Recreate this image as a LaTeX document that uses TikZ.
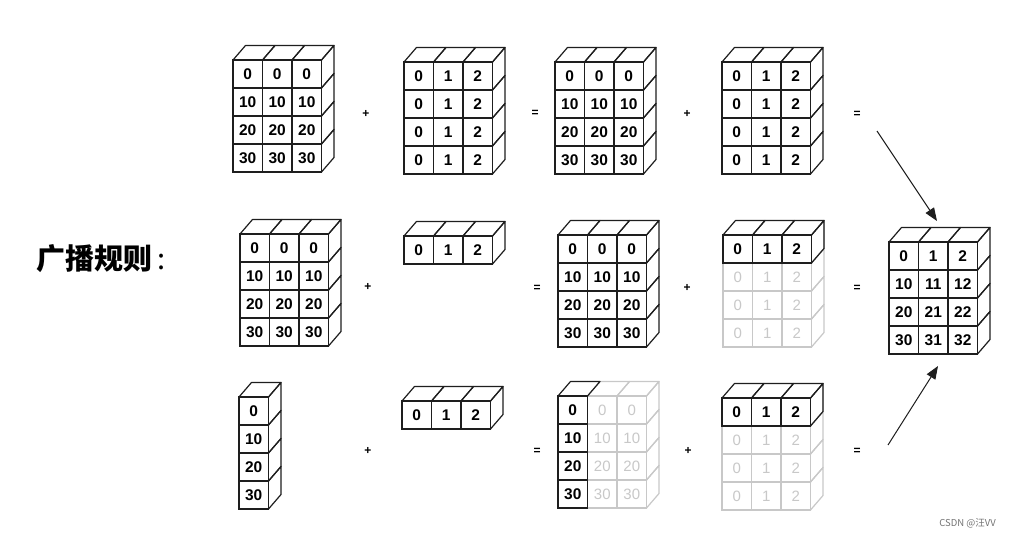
\documentclass[tikz,border=0pt]{standalone}
\usepackage{fontspec}
\setmainfont{Liberation Sans}
\newfontfamily\cjk{Noto Sans CJK SC}
\usetikzlibrary{arrows.meta}
\def\cw{29.5}
\def\ch{28}
\def\cbdx{12.5}
\def\cbdy{14.5}
\definecolor{fade}{HTML}{C8C8C8}
\definecolor{ink}{HTML}{1E1E1E}
\tikzset{
  cell/.style={draw, line width=1.2pt, minimum width=\cw pt, minimum height=\ch pt,
    inner sep=0pt, outer sep=0pt, font=\bfseries\fontsize{15.5}{15.5}\selectfont, text=black, color=ink},
  dark/.style={draw=ink, text=black},
  faded/.style={draw=fade, text=fade, font=\fontsize{15}{15}\selectfont},
  edge/.style={draw=ink, line width=1.2pt, line join=round},
  fedge/.style={draw=fade, line width=1.2pt, line join=round},
  op/.style={font=\bfseries\fontsize{12}{12}\selectfont, inner sep=0pt},
  conn/.style={draw=ink, line width=1pt, -{Triangle[length=13pt,width=10pt]}}
}
% top faces: x, y, ncols, style
\newcommand\topfaces[4]{%
  \foreach \i in {1,...,#3}{%
    \draw[#4] ({#1+(\i-1)*\cw},#2) -- ++(\cbdx,-\cbdy) -- ++(\cw,0) -- ({#1+\i*\cw},#2);
  }}
% side faces: x, y, ncols (right edge offset), nrows, style
\newcommand\sidefaces[5]{%
  \foreach \j in {1,...,#4}{%
    \draw[#5] ({#1+#3*\cw},{#2+(\j-1)*\ch}) -- ++(\cbdx,-\cbdy) -- ++(0,\ch) -- ({#1+#3*\cw},{#2+\j*\ch});
  }}
% cells: name, x, y, ncols, labels, style
\newcommand\cells[6]{%
  \foreach \lab [count=\k from 0] in {#5}{%
    \pgfmathtruncatemacro\cc{mod(\k,#4)}%
    \pgfmathtruncatemacro\rr{div(\k,#4)}%
    \node[cell,#6,anchor=north west] (#1-\k) at ({#2+\cc*\cw},{#3+\rr*\ch}) {\lab};
  }}
\newcommand\fullbox[6]{% name,x,y,ncols,nrows,labels
  \topfaces{#2}{#3}{#4}{edge}
  \sidefaces{#2}{#3}{#4}{#5}{edge}
  \cells{#1}{#2}{#3}{#4}{#6}{dark}
}
\begin{document}
\begin{tikzpicture}[x=1pt,y=-1pt]
\useasboundingbox[fill=white] (0,0) rectangle (1010,538);

% ---------- row 1 ----------
\fullbox{ra}{233}{60}{3}{4}{0,0,0,10,10,10,20,20,20,30,30,30}
\fullbox{rb}{404}{62}{3}{4}{0,1,2,0,1,2,0,1,2,0,1,2}
\fullbox{rc}{555}{62}{3}{4}{0,0,0,10,10,10,20,20,20,30,30,30}
\fullbox{rd}{722}{62}{3}{4}{0,1,2,0,1,2,0,1,2,0,1,2}

% ---------- row 2 ----------
\fullbox{sa}{240}{234}{3}{4}{0,0,0,10,10,10,20,20,20,30,30,30}
\fullbox{sb}{404}{236}{3}{1}{0,1,2}
\fullbox{sc}{558}{235}{3}{4}{0,0,0,10,10,10,20,20,20,30,30,30}
% faded box with dark top row
\sidefaces{723}{235}{3}{4}{fedge}
\cells{sdf}{723}{263}{3}{0,1,2,0,1,2,0,1,2}{faded}
\topfaces{723}{235}{3}{edge}
\sidefaces{723}{235}{3}{1}{edge}
\cells{sd}{723}{235}{3}{0,1,2}{dark}

% ---------- row 3 ----------
\fullbox{ta}{239}{397}{1}{4}{0,10,20,30}
\fullbox{tb}{402}{401}{3}{1}{0,1,2}
% faded box with dark left column
\topfaces{587.5}{396}{2}{fedge}
\sidefaces{558}{396}{3}{4}{fedge}
\cells{tcf}{587.5}{396}{2}{0,0,10,10,20,20,30,30}{faded}
\topfaces{558}{396}{1}{edge}
\cells{tc}{558}{396}{1}{0,10,20,30}{dark}
% faded box with dark top row
\sidefaces{722}{398}{3}{4}{fedge}
\cells{tdf}{722}{426}{3}{0,1,2,0,1,2,0,1,2}{faded}
\topfaces{722}{398}{3}{edge}
\sidefaces{722}{398}{3}{1}{edge}
\cells{td}{722}{398}{3}{0,1,2}{dark}

% ---------- result ----------
\fullbox{res}{889}{242}{3}{4}{0,1,2,10,11,12,20,21,22,30,31,32}

% ---------- operators ----------
\node[op] (p1a) at (366,114) {+};
\node[op] (e1a) at (535,113) {=};
\node[op] (p1b) at (687,114) {+};
\node[op] (e1b) at (857,114) {=};
\node[op] (p2a) at (368,287) {+};
\node[op] (e2a) at (537,288) {=};
\node[op] (p2b) at (687,288) {+};
\node[op] (e2b) at (857,288) {=};
\node[op] (p3a) at (368,451) {+};
\node[op] (e3a) at (537,451) {=};
\node[op] (p3b) at (688,451) {+};
\node[op] (e3b) at (857,451) {=};

% ---------- arrows ----------
\coordinate (a1s) at (877,131);
\coordinate (a1e) at (937,221);
\coordinate (a2s) at (888,445);
\coordinate (a2e) at (938,366);
\draw[conn] (a1s) -- (a1e);
\draw[conn] (a2s) -- (a2e);

% ---------- labels ----------
\node[anchor=west, inner sep=0pt, font=\cjk\fontsize{29}{29}\selectfont] (title) at (36,259) {{\bfseries 广播规则}\,:};
\node[anchor=east, inner sep=0pt, text=black!55, font=\cjk\fontsize{9.5}{9.5}\selectfont] (wm) at (996,523) {CSDN @汪VV};
\end{tikzpicture}
\end{document}
